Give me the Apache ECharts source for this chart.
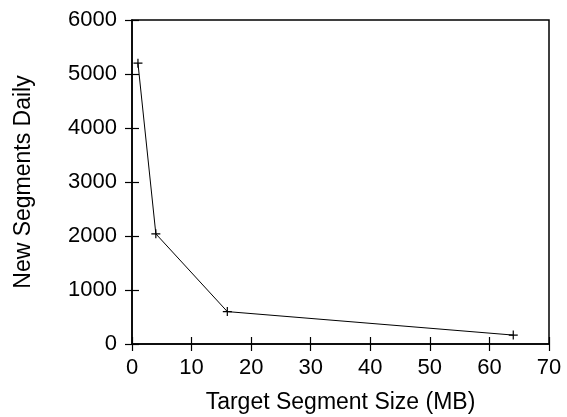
<!DOCTYPE html>
<html>
<head>
<meta charset="utf-8">
<script src="https://cdn.jsdelivr.net/npm/echarts@6/dist/echarts.min.js"></script>
<style>
  html, body { margin: 0; padding: 0; background: #fff; }
  #chart { width: 567px; height: 417px; }
</style>
</head>
<body>
<div id="chart"></div>
<script>
// target segment size (MB)
const segmentSizes = [1, 4, 16, 64]
// new segments per day
const newSegments = [5200, 2040, 600, 165]

const xTicks = { min: 0, max: 70, interval: 10 }
const yTicks = { min: 0, max: 6000, interval: 1000 }

const font = 'Liberation Sans, Arial, Helvetica, sans-serif'
const plus = 'path://M0,5L10,5M5,0L5,10'

const chart = echarts.init(document.getElementById('chart'))

const tickStyle = { inside: true, length: 7, lineStyle: { color: '#000', width: 1.2 } }
const textStyle = { fontFamily: font, fontSize: 22, color: '#000' }
const nameStyle = { fontFamily: font, fontSize: 23, color: '#000' }

chart.setOption({
  animation: false,
  backgroundColor: '#fff',
  grid: {
    left: 132,
    right: 18,
    top: 20,
    bottom: 73,
    outerBoundsMode: 'none',
    show: true,
    borderColor: '#000',
    borderWidth: 1.5
  },
  xAxis: [
    {
      type: 'value',
      ...xTicks,
      name: 'Target Segment Size (MB)',
      nameLocation: 'middle',
      nameGap: 47,
      nameTextStyle: nameStyle,
      axisLine: { show: true, lineStyle: { color: '#000', width: 1.5 } },
      axisTick: tickStyle,
      axisLabel: { ...textStyle, margin: 13, formatter: v => String(v) },
      splitLine: { show: false }
    },
    {
      type: 'value',
      position: 'top',
      ...xTicks,
      axisLine: { show: false },
      axisTick: tickStyle,
      axisLabel: { show: false },
      splitLine: { show: false }
    }
  ],
  yAxis: [
    {
      type: 'value',
      ...yTicks,
      name: 'New Segments Daily',
      nameLocation: 'middle',
      nameGap: 97,
      nameTextStyle: nameStyle,
      axisLine: { show: true, lineStyle: { color: '#000', width: 1.5 } },
      axisTick: tickStyle,
      axisLabel: { ...textStyle, margin: 15, formatter: v => String(v) },
      splitLine: { show: false }
    },
    {
      type: 'value',
      position: 'right',
      ...yTicks,
      axisLine: { show: false },
      axisTick: tickStyle,
      axisLabel: { show: false },
      splitLine: { show: false }
    }
  ],
  series: [
    {
      type: 'line',
      data: segmentSizes.map((s, i) => [s, newSegments[i]]),
      symbol: plus,
      symbolSize: 9,
      lineStyle: { color: '#000', width: 1 },
      itemStyle: { color: 'transparent', borderColor: '#000', borderWidth: 1.2 }
    }
  ]
})
</script>
</body>
</html>
